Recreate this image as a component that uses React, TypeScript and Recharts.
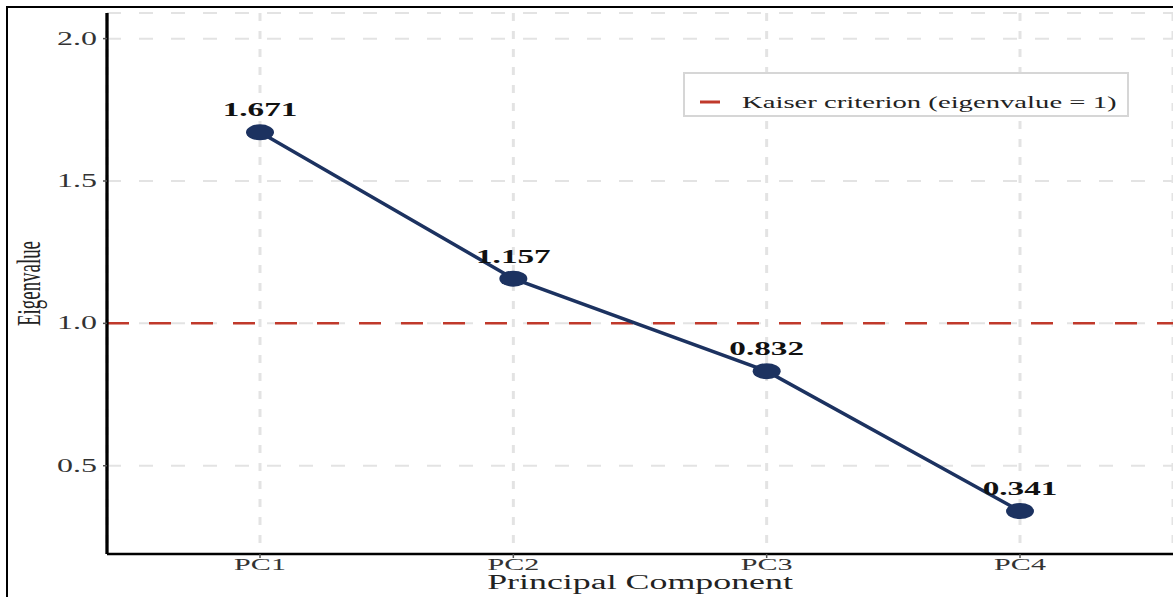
import { LineChart, Line, XAxis, YAxis, CartesianGrid, ReferenceLine, LabelList, Label } from 'recharts'

const components = ['PC1', 'PC2', 'PC3', 'PC4']
const eigenvalues = [1.671, 1.157, 0.832, 0.341]
const yTicks = [0.5, 1.0, 1.5, 2.0]
const kaiserThreshold = 1
const legendText = 'Kaiser criterion (eigenvalue = 1)'

const data = components.map((pc, i) => ({ pc, eig: eigenvalues[i] }))

const W = 1173
const H = 597
const SERIF = '"Liberation Serif", "Times New Roman", serif'
const NAVY = '#1c3260'
const RED = '#c0392b'
// all glyphs are drawn widened horizontally
const SX = 1.75

function WideText({ x, y, size, anchor = 'middle', weight = 400, fill = '#222', rotate = false, children }: any) {
  return (
    <text
      transform={`translate(${x},${y}) scale(${SX},1)${rotate ? ' rotate(-90)' : ''}`}
      textAnchor={anchor}
      fontFamily={SERIF}
      fontSize={size}
      fontWeight={weight}
      fill={fill}
    >
      {children}
    </text>
  )
}

function XTick({ x, y, payload }: any) {
  return <WideText x={x} y={y + 10} size={17.2} fill="#333">{payload.value}</WideText>
}

function YTick({ x, y, payload }: any) {
  return (
    <WideText x={x - 4} y={y + 6} size={18.3} anchor="end" fill="#333">
      {payload.value.toFixed(1)}
    </WideText>
  )
}

function Dot({ cx, cy }: any) {
  if (cx == null || cy == null) return null
  return <ellipse cx={cx} cy={cy} rx={14} ry={8} fill={NAVY} />
}

function ValueLabel({ x, y, value }: any) {
  return (
    <WideText x={x} y={y - 16} size={19} weight={700} fill="#111">
      {Number(value).toFixed(3)}
    </WideText>
  )
}

function KaiserLegend() {
  return (
    <div
      style={{
        position: 'absolute',
        left: 683,
        top: 72,
        width: 446,
        height: 45,
        boxSizing: 'border-box',
        border: '2px solid #d6d6d6',
        background: '#fff',
      }}
    >
      <svg width={442} height={41} style={{ display: 'block' }}>
        <line x1={15} x2={35} y1={28} y2={28} stroke={RED} strokeWidth={3} />
        <WideText x={57} y={34} size={16.4} anchor="start" fill="#222">{legendText}</WideText>
      </svg>
    </div>
  )
}

export default function App() {
  return (
    <div style={{ position: 'absolute', left: 0, top: 0, width: W, height: H, background: '#fff', overflow: 'hidden' }}>
      <div
        style={{
          position: 'absolute',
          left: 6,
          top: 6,
          width: W,
          height: H,
          borderLeft: '2.5px solid #000',
          borderTop: '2.5px solid #000',
        }}
      />
      <div style={{ position: 'absolute', left: 0, top: 0 }}>
        <LineChart width={W} height={H} data={data} margin={{ top: 13, right: 0, bottom: 0, left: 0 }}>
          <CartesianGrid horizontal={false} stroke="#e3e3e3" strokeWidth={3} strokeDasharray="8 10" />
          <CartesianGrid vertical={false} stroke="#e3e3e3" strokeWidth={2} strokeDasharray="14 18" />
          <XAxis
            dataKey="pc"
            height={43}
            padding={{ left: 153, right: 153 }}
            tick={<XTick />}
            tickSize={4}
            tickLine={{ stroke: '#555', strokeWidth: 1.5 }}
            axisLine={{ stroke: '#000', strokeWidth: 2.5 }}
          >
            <Label
              content={({ viewBox }: any) => (
                <WideText x={viewBox.x + viewBox.width / 2} y={viewBox.y + 35} size={20.5} fill="#222">
                  Principal Component
                </WideText>
              )}
            />
          </XAxis>
          <YAxis
            width={107}
            type="number"
            domain={[0.19, 2.09]}
            ticks={yTicks}
            allowDataOverflow
            tick={<YTick />}
            tickSize={4}
            tickLine={{ stroke: '#555', strokeWidth: 1.5 }}
            axisLine={{ stroke: '#000', strokeWidth: 3.3 }}
          >
            <Label
              content={({ viewBox }: any) => (
                <WideText x={viewBox.x + 40} y={viewBox.y + viewBox.height / 2} size={18.9} rotate fill="#222">
                  Eigenvalue
                </WideText>
              )}
            />
          </YAxis>
          <ReferenceLine y={kaiserThreshold} stroke={RED} strokeWidth={2.5} strokeDasharray="22 20" />
          <Line
            dataKey="eig"
            stroke={NAVY}
            strokeWidth={3.5}
            dot={<Dot />}
            activeDot={false}
            isAnimationActive={false}
          >
            <LabelList dataKey="eig" content={<ValueLabel />} />
          </Line>
        </LineChart>
      </div>
      <KaiserLegend />
    </div>
  )
}
